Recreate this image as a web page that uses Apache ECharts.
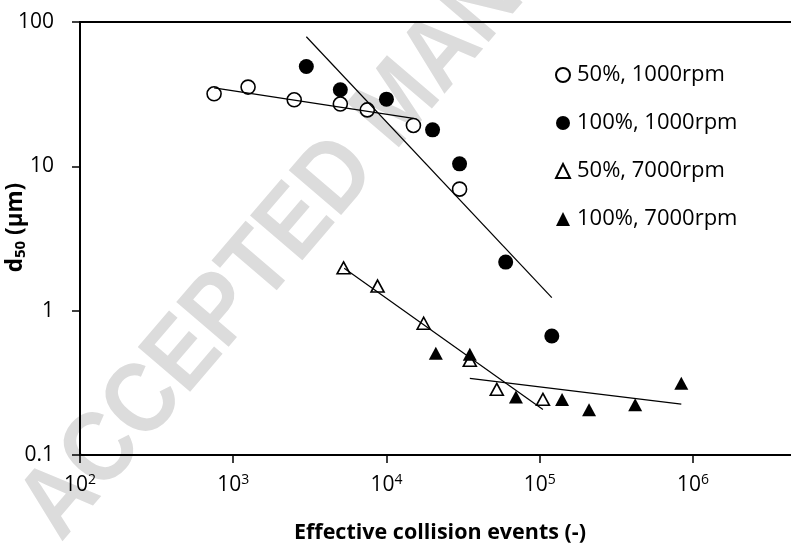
<!DOCTYPE html>
<html>
<head>
<meta charset="utf-8">
<script src="https://cdn.jsdelivr.net/npm/echarts@6/dist/echarts.min.js"></script>
<style>
  html, body { margin: 0; padding: 0; background: #fff; }
  #chart { width: 791px; height: 546px; }
</style>
</head>
<body>
<div id="chart"></div>
<script>
// d50 vs effective collision events
const seriesNames = ["50%, 1000rpm", "100%, 1000rpm", "50%, 7000rpm", "100%, 7000rpm"];

const x50_1000 = [750, 1250, 2500, 5000, 7500, 15000, 30000];
const y50_1000 = [31.8, 35.4, 28.9, 27.0, 24.6, 19.2, 6.95];

const x100_1000 = [3000, 5000, 10000, 20000, 30000, 60000, 120000];
const y100_1000 = [49.2, 33.9, 29.2, 17.9, 10.4, 2.17, 0.668];

const x50_7000 = [5250, 8750, 17500, 35000, 52500, 105000];
const y50_7000 = [1.98, 1.48, 0.818, 0.453, 0.285, 0.243];

const x100_7000 = [21000, 35000, 70000, 140000, 210000, 420000, 840000];
const y100_7000 = [0.507, 0.498, 0.252, 0.242, 0.206, 0.223, 0.314];

// trendline end points (power fits drawn in the figure)
const trendX50_1000 = [750, 15000];
const trendY50_1000 = [35.0, 21.5];
const trendX100_1000 = [3000, 120000];
const trendY100_1000 = [79, 1.23];
const trendX50_7000 = [5300, 105000];
const trendY50_7000 = [1.97, 0.207];
const trendX100_7000 = [35000, 840000];
const trendY100_7000 = [0.34, 0.225];

const xTickLabels = { 2: "2", 3: "3", 4: "4", 5: "5", 6: "6" };

const font = "'Open Sans', 'Noto Sans', sans-serif";

function pts(xs, ys) {
  return xs.map((x, i) => [x, ys[i]]);
}

const openStyle = { color: "#fff", borderColor: "#000", borderWidth: 1.6, opacity: 1 };
const fillStyle = { color: "#000", opacity: 1 };

function trend(xs, ys) {
  return {
    type: "line",
    data: pts(xs, ys),
    symbol: "none",
    silent: true,
    z: 5,
    lineStyle: { color: "#000", width: 1.2 },
    animation: false
  };
}

const chart = echarts.init(document.getElementById("chart"));

chart.setOption({
  animation: false,
  backgroundColor: "#fff",
  grid: {
    left: 80,
    top: 22,
    bottom: 91,
    right: -9,
    containLabel: false,
    outerBoundsMode: "none",
    show: true,
    borderColor: "#000",
    borderWidth: 2,
    backgroundColor: "transparent"
  },
  graphic: [
    {
      // faint "accepted manuscript" stamp behind the plot
      type: "text",
      x: 40,
      y: 525,
      rotation: (49.5 * Math.PI) / 180,
      scaleX: 0.89,
      z: -10,
      silent: true,
      style: {
        text: "ACCEPTED MANUSCRIPT",
        fontFamily: "'Liberation Sans', Arial, sans-serif",
        fontWeight: "bold",
        fontSize: 100,
        fill: "#dcdcdc",
        align: "left",
        verticalAlign: "middle"
      }
    }
  ],
  legend: {
    orient: "vertical",
    left: 550,
    top: 59,
    itemWidth: 14,
    itemHeight: 14,
    itemGap: 26,
    selectedMode: false,
    data: seriesNames,
    textStyle: {
      fontFamily: font,
      fontSize: 22,
      lineHeight: 22,
      color: "#000",
      padding: [0, 0, 0, 2]
    }
  },
  xAxis: {
    type: "log",
    logBase: 10,
    min: 100,
    max: 5e6,
    splitLine: { show: false },
    minorTick: { show: false },
    axisLine: { lineStyle: { color: "#000", width: 2 } },
    axisTick: { show: true, length: 8, lineStyle: { color: "#000", width: 1.5 } },
    axisLabel: {
      margin: 18,
      showMinLabel: true,
      formatter: function (v) {
        const e = Math.log10(v);
        const n = Math.round(e);
        if (Math.abs(e - n) > 1e-6 || !xTickLabels[n]) return "";
        return "{b|10}{s|" + xTickLabels[n] + "}";
      },
      rich: {
        b: { fontFamily: font, fontSize: 21, color: "#000", lineHeight: 24 },
        s: { fontFamily: font, fontSize: 14, color: "#000", lineHeight: 14, verticalAlign: "top" }
      }
    },
    name: "Effective collision events (-)",
    nameLocation: "middle",
    nameGap: 67,
    nameMoveOverlap: false,
    nameTextStyle: { fontFamily: font, fontSize: 21.5, fontWeight: "bold", color: "#000" }
  },
  yAxis: {
    type: "log",
    logBase: 10,
    min: 0.1,
    max: 100,
    splitLine: { show: false },
    minorTick: { show: false },
    axisLine: { show: true, lineStyle: { color: "#000", width: 2 } },
    axisTick: { show: true, length: 8, lineStyle: { color: "#000", width: 1.5 } },
    axisLabel: {
      margin: 26,
      fontFamily: font,
      fontSize: 21,
      color: "#000",
      formatter: function (v) {
        return v < 1 ? String(Number(v.toPrecision(1))) : String(Math.round(v));
      }
    },
    name: "{b|d}{s|50}{b| (µm)}",
    nameLocation: "middle",
    nameRotate: 90,
    nameGap: 52,
    nameMoveOverlap: false,
    nameTextStyle: {
      padding: [0, 0, 0, 22],
      rich: {
        b: { fontFamily: font, fontSize: 22.5, fontWeight: "bold", color: "#000", lineHeight: 24 },
        s: { fontFamily: font, fontSize: 15, fontWeight: "bold", color: "#000", lineHeight: 14, verticalAlign: "bottom" }
      }
    }
  },
  series: [
    {
      name: seriesNames[0],
      type: "scatter",
      symbol: "circle",
      symbolSize: 14,
      itemStyle: openStyle,
      data: pts(x50_1000, y50_1000),
      z: 3
    },
    {
      name: seriesNames[1],
      type: "scatter",
      symbol: "circle",
      symbolSize: 15,
      itemStyle: fillStyle,
      data: pts(x100_1000, y100_1000),
      z: 3
    },
    {
      name: seriesNames[2],
      type: "scatter",
      symbol: "triangle",
      symbolSize: [13, 12],
      itemStyle: openStyle,
      data: pts(x50_7000, y50_7000),
      z: 3
    },
    {
      name: seriesNames[3],
      type: "scatter",
      symbol: "triangle",
      symbolSize: [14, 13],
      itemStyle: fillStyle,
      data: pts(x100_7000, y100_7000),
      z: 4
    },
    trend(trendX50_1000, trendY50_1000),
    trend(trendX100_1000, trendY100_1000),
    trend(trendX50_7000, trendY50_7000),
    trend(trendX100_7000, trendY100_7000)
  ]
});
</script>
</body>
</html>
